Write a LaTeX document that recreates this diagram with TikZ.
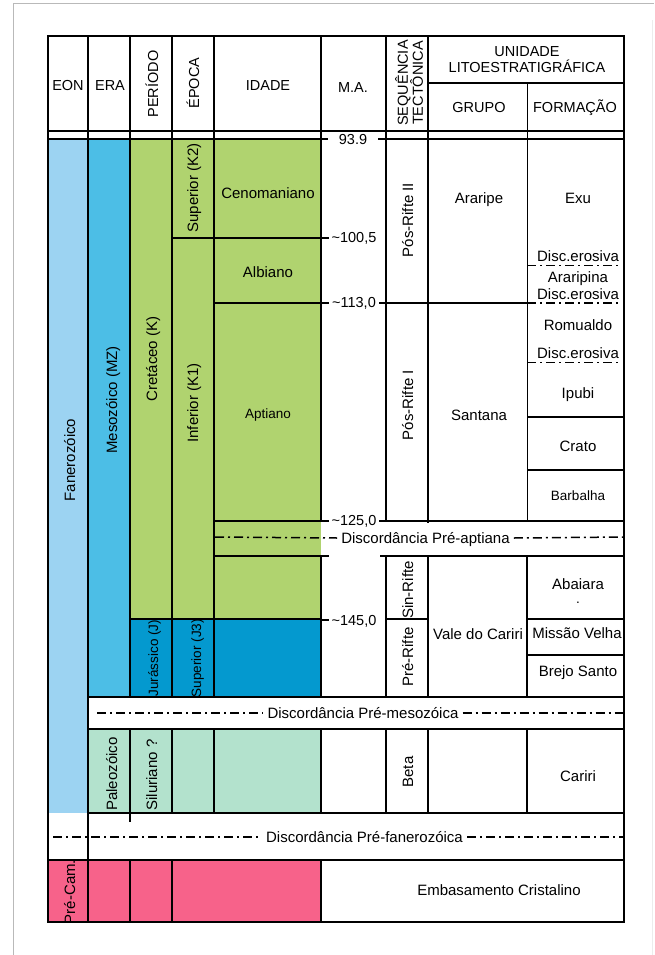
\documentclass[tikz,border=0pt]{standalone}
\usepackage{fontspec}
\setmainfont{Liberation Sans}
\usepackage{tikz}
\tikzset{>=latex}
\usetikzlibrary{calc}
\definecolor{fanero}{RGB}{156,211,242}
\definecolor{meso}{RGB}{76,190,230}
\definecolor{cretaceo}{RGB}{176,211,111}
\definecolor{jurassico}{RGB}{4,153,207}
\definecolor{paleo}{RGB}{179,226,205}
\definecolor{precam}{RGB}{247,98,138}

\begin{document}
\begin{tikzpicture}[x=1pt,y=-1pt]
            \tikzset{edge/.style={line width=1.6pt},
              thinedge/.style={line width=0.9pt},
              disc/.style={line width=1.5pt, dash pattern=on 9pt off 4pt on 2pt off 4pt},
              lbl/.style={font=\fontsize{15}{16}\selectfont, inner sep=0pt, text height=10.8pt, text depth=0.5pt},
              small/.style={lbl, font=\fontsize{13.5}{15}\selectfont},
              vlbl/.style={lbl, rotate=90},
              head/.style={font=\fontsize{14.5}{16}\selectfont, inner sep=0pt, align=center},
              tick/.style={lbl, font=\fontsize{14.5}{16}\selectfont, fill=white, minimum width=50pt},
              disclbl/.style={lbl, inner xsep=4pt}}
            \useasboundingbox (0,0) rectangle (654,955);
            \draw[gray!55, line width=1pt] (13,955) -- (13,4) -- (654,4);
            \draw[gray!15, line width=0.8pt] (652,20) -- (652,955);
            \fill[fanero] (48,139) rectangle (88,813);
            \fill[meso] (88,139) rectangle (130,697);
            \fill[cretaceo] (130,139) rectangle (321,619);
            \fill[jurassico] (130,619) rectangle (321,697);
            \fill[paleo] (88,729) rectangle (321,813);
            \fill[precam] (48,860) rectangle (321,922);
            \draw[edge] (48,131) -- (624,131);
            \draw[edge] (428,83) -- (624,83);
            \draw[thinedge] (527,83) -- (527,520.7);
            \draw[edge] (88,36) -- (88,922);
            \draw[edge] (130,36) -- (130,697) (130,729) -- (130,822) (130,860) -- (130,922);
            \draw[edge] (172,36) -- (172,697) (172,729) -- (172,813) (172,860) -- (172,922);
            \draw[edge] (214,36) -- (214,697) (214,729) -- (214,813);
            \draw[edge] (321,36) -- (321,520.7) (321,556) -- (321,697) (321,729) -- (321,813) (321,860) -- (321,922);
            \draw[edge] (386,36) -- (386,520.7) (386,556) -- (386,697) (386,729) -- (386,813);
            \draw[edge] (428,36) -- (428,523) (428,556) -- (428,697) (428,729) -- (428,813);
            \draw[edge] (527,556) -- (527,697) (527,729) -- (527,813);
            \draw[edge] (48,139) -- (321,139);
            \draw[edge] (172,237.7) -- (321,237.7);
            \draw[edge] (214,302.7) -- (321,302.7);
            \draw[edge] (214,520.7) -- (321,520.7);
            \draw[edge] (214,556) -- (329,556) (380,556) -- (624,556);
            \draw[edge] (130,619) -- (321,619);
            \draw[edge] (527,417) -- (624,417) (527,470) -- (624,470);
            \draw[edge] (386,619) -- (428,619) (527,619) -- (624,619) (527,655) -- (624,655);
            \draw[edge] (88,697) -- (624,697) (88,729) -- (624,729) (88,813) -- (624,813);
            \draw[edge] (48,860) -- (624,860);
            \draw[line width=2.6pt] (48,36) rectangle (624,922);
            \node[head] (eon) at (68,86) {EON};
            \node[head] (era) at (110,86) {ERA};
            \node[head, rotate=90] (periodo) at (152,84) {PERÍODO};
            \node[head, rotate=90] (epoca) at (193,83) {ÉPOCA};
            \node[head] (idade) at (268,86) {IDADE};
            \node[head] (ma) at (353,88) {M.A.};
            \node[head, rotate=90] (seq) at (409,83) {SEQUÊNCIA\\[-1pt]TECTÔNICA};
            \node[head] (unidade) at (527,60) {UNIDADE\\LITOESTRATIGRÁFICA};
            \node[head] (grupo) at (479,108) {GRUPO};
            \node[head] (formacao) at (575,108) {FORMAÇÃO};
            \node[tick] (ma939) at (353,139) {93.9};
            \draw[edge] (321,139) -- (ma939.west) (ma939.east) -- (624,139);
            \node[tick] (ma1005) at (354,237.7) {\textasciitilde100,5};
            \draw[edge] (321,237.7) -- (ma1005.west);
            \node[tick] (ma1130) at (354,302.7) {\textasciitilde113,0};
            \draw[edge] (321,302.7) -- (ma1130.west) (ma1130.east) -- (527,302.7);
            \node[tick] (ma1250) at (354,520.7) {\textasciitilde125,0};
            \draw[edge] (321,520.7) -- (ma1250.west) (ma1250.east) -- (624,520.7);
            \node[tick] (ma1450) at (354,620) {\textasciitilde145,0};
            \draw[edge] (321,620) -- (ma1450.west);
            \node[vlbl] (fanerozoico) at (70,460) {Fanerozóico};
            \node[vlbl] (precambriano) at (70,892) {Pré-Cam.};
            \node[vlbl] (mesozoico) at (112,400) {Mesozóico (MZ)};
            \node[vlbl] (paleozoico) at (112,774) {Paleozóico};
            \node[vlbl] (cretaceo) at (152,359) {Cretáceo (K)};
            \node[vlbl, font=\fontsize{13.5}{15}\selectfont] (jurassico) at (153,658) {Jurássico (J)};
            \node[vlbl] (siluriano) at (152,775) {Siluriano ?};
            \node[vlbl] (superiork) at (193,188) {Superior (K2)};
            \node[vlbl] (inferiork) at (193,403) {Inferior (K1)};
            \node[vlbl, font=\fontsize{13.5}{15}\selectfont] (superiorj) at (196,658) {Superior (J3)};
            \node[lbl] (cenomaniano) at (268,193) {Cenomaniano};
            \node[lbl] (albiano) at (268,272) {Albiano};
            \node[small] (aptiano) at (268,413) {Aptiano};
            \node[vlbl] (posrifte2) at (408,220) {Pós-Rifte II};
            \node[vlbl] (posrifte1) at (408,405) {Pós-Rifte I};
            \node[vlbl] (sinrifte) at (408,590) {Sin-Rifte};
            \node[vlbl] (prerifte) at (408,657) {Pré-Rifte};
            \node[vlbl] (beta) at (408,772) {Beta};
            \node[lbl] (araripe) at (479,198) {Araripe};
            \node[lbl] (santana) at (479,415) {Santana};
            \node[lbl] (valecariri) at (478,634) {Vale do Cariri};
            \node[lbl] (exu) at (578,198) {Exu};
            \node[lbl] (disc1) at (578,256) {Disc.erosiva};
            \draw[disc] (527,265.7) -- (620,265.7);
            \node[lbl] (araripina) at (578,277) {Araripina};
            \node[lbl] (disc2) at (578,294) {Disc.erosiva};
            \draw[disc] (527,303) -- (620,303);
            \node[lbl] (romualdo) at (578,325) {Romualdo};
            \node[lbl] (disc3) at (578,353) {Disc.erosiva};
            \draw[disc] (527,362.7) -- (620,362.7);
            \node[lbl] (ipubi) at (578,393) {Ipubi};
            \node[lbl] (crato) at (578,446) {Crato};
            \node[small] (barbalha) at (578,495) {Barbalha};
            \node[lbl] (abaiara) at (578,584) {Abaiara};
            \node[small] (abaiaradot) at (578,598) {.};
            \node[lbl] (missaovelha) at (577,633) {Missão Velha};
            \node[lbl] (brejosanto) at (578,671) {Brejo Santo};
            \node[lbl] (cariri) at (578,776) {Cariri};
            \node[lbl] (embasamento) at (499,890) {Embasamento Cristalino};
            \node[disclbl] (dpreapt) at (425.5,538) {Discordância Pré-aptiana};
            \draw[disc] (215,537) -- (dpreapt.west) (dpreapt.east) -- (624,537);
            \node[disclbl] (dpremeso) at (363,713) {Discordância Pré-mesozóica};
            \draw[disc] (97,713) -- (dpremeso.west) (dpremeso.east) -- (623,713);
            \node[disclbl] (dprefanero) at (364.5,837) {Discordância Pré-fanerozóica};
            \draw[disc] (53,837) -- (dprefanero.west) (dprefanero.east) -- (623,837);
\end{tikzpicture}
\end{document}
